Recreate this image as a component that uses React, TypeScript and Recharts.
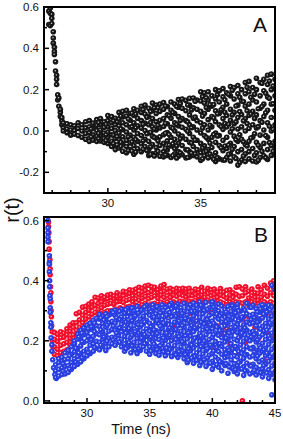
import React from "react";
import { ScatterChart, Scatter, XAxis, YAxis } from "recharts";

// panel A
const aTimes = [26.82, 26.9, 26.98, 27.06, 27.12, 27.18, 27.24, 27.3, 27.36, 27.44, 27.52, 27.6, 27.8, 28, 28.2, 28.4, 28.6, 28.8, 29, 29.2, 29.4, 29.6, 29.8, 30, 30.2, 30.4, 30.6, 30.8, 31, 31.2, 31.4, 31.6, 31.8, 32, 32.2, 32.4, 32.6, 32.8, 33, 33.2, 33.4, 33.6, 33.8, 34, 34.2, 34.4, 34.6, 34.8, 35, 35.2, 35.4, 35.6, 35.8, 36, 36.2, 36.4, 36.6, 36.8, 37, 37.2, 37.4, 37.6, 37.8, 38, 38.2, 38.4, 38.6, 38.8, 39];
const aValues = [
  [0.515, 0.58], [0.595, 0.57, 0.51], [0.545, 0.52, 0.565], [0.48, 0.45, 0.425], [0.385, 0.37, 0.405], [0.335, 0.29], [0.25, 0.225, 0.27], [0.175, 0.15], [0.12, 0.16], [0.09, 0.07, 0.105], [0.05, 0.03, 0.065], [0.04, 0.015, 0.0],
  [0.035, 0.01, -0.008], [0.03, 0.005, -0.02], [0.025, 0.002, -0.015], [0.04, 0.012, -0.022], [0.03, 0.0, -0.03], [0.045, 0.015, -0.012, -0.04], [0.05, 0.02, -0.008, -0.035, -0.05],
  [0.038, 0.012, -0.018, -0.044], [0.055, 0.028, 0.002, -0.026, -0.05], [0.06, 0.03, 0.005, -0.02, -0.048], [0.045, 0.018, -0.01, -0.036, -0.055], [0.075, 0.05, 0.02, -0.006, -0.03, -0.06],
  [0.07, 0.04, 0.012, -0.018, -0.05, -0.075], [0.062, 0.03, 0.002, -0.035, -0.068, -0.09], [0.09, 0.058, 0.025, -0.01, -0.04, -0.082], [0.095, 0.068, 0.04, 0.006, -0.028, -0.062, -0.098], [0.1, 0.072, 0.03, -0.005, -0.045, -0.075, -0.105],
  [0.085, 0.052, 0.018, -0.02, -0.058, -0.09], [0.108, 0.075, 0.04, 0.005, -0.03, -0.07, -0.112], [0.1, 0.062, 0.025, -0.012, -0.05, -0.085], [0.12, 0.09, 0.05, 0.014, -0.022, -0.062, -0.1], [0.125, 0.082, 0.038, 0.002, -0.04, -0.075],
  [0.11, 0.07, 0.03, -0.01, -0.05, -0.09, -0.118], [0.135, 0.1, 0.06, 0.02, -0.025, -0.065, -0.11], [0.125, 0.085, 0.045, 0.005, -0.035, -0.08, -0.105], [0.13, 0.095, 0.052, 0.015, -0.028, -0.07, -0.122], [0.138, 0.105, 0.06, 0.022, -0.018, -0.06, -0.1, -0.125],
  [0.118, 0.078, 0.035, -0.008, -0.048, -0.092, -0.118], [0.14, 0.1, 0.062, 0.018, -0.03, -0.072, -0.128], [0.13, 0.085, 0.04, 0.0, -0.04, -0.085, -0.11], [0.152, 0.115, 0.07, 0.025, -0.015, -0.06, -0.1, -0.122], [0.155, 0.11, 0.06, 0.018, -0.025, -0.07, -0.115],
  [0.148, 0.098, 0.05, 0.008, -0.04, -0.09, -0.13], [0.158, 0.125, 0.078, 0.03, -0.012, -0.055, -0.1, -0.125], [0.16, 0.112, 0.062, 0.02, -0.03, -0.075, -0.118], [0.15, 0.105, 0.05, 0.005, -0.045, -0.09, -0.125], [0.19, 0.145, 0.095, 0.04, -0.01, -0.06, -0.105, -0.142],
  [0.185, 0.135, 0.085, 0.03, -0.022, -0.072, -0.12], [0.19, 0.15, 0.105, 0.055, 0.005, -0.04, -0.09, -0.13], [0.17, 0.12, 0.07, 0.02, -0.03, -0.08, -0.125], [0.2, 0.155, 0.098, 0.045, -0.01, -0.055, -0.105, -0.148], [0.195, 0.14, 0.085, 0.03, -0.022, -0.07, -0.135],
  [0.205, 0.165, 0.115, 0.06, 0.008, -0.045, -0.095, -0.14], [0.185, 0.13, 0.075, 0.02, -0.03, -0.085, -0.128], [0.215, 0.17, 0.105, 0.052, -0.005, -0.06, -0.11, -0.145], [0.21, 0.155, 0.09, 0.035, -0.025, -0.075, -0.125], [0.22, 0.18, 0.125, 0.065, 0.01, -0.05, -0.1, -0.165],
  [0.2, 0.145, 0.08, 0.02, -0.04, -0.09, -0.14], [0.235, 0.18, 0.12, 0.06, 0.0, -0.065, -0.11, -0.148], [0.24, 0.19, 0.13, 0.075, 0.012, -0.05, -0.1, -0.135], [0.21, 0.15, 0.095, 0.03, -0.03, -0.085, -0.145], [0.255, 0.2, 0.14, 0.078, 0.015, -0.055, -0.105, -0.15],
  [0.235, 0.17, 0.11, 0.05, -0.02, -0.08, -0.128], [0.25, 0.195, 0.13, 0.07, 0.005, -0.06, -0.12], [0.27, 0.225, 0.165, 0.1, 0.04, -0.03, -0.09, -0.138], [0.275, 0.2, 0.13, 0.065, 0.0, -0.07, -0.118], [0.25, 0.205, 0.17, 0.1, 0.03, -0.05, -0.08, -0.115],
];
// more passes over the cloud, read between the first columns
const aTimes2 = [29.1, 29.5, 29.9, 30.3, 30.7, 31.1, 31.5, 31.9, 32.3, 32.7, 33.1, 33.5, 33.9, 34.3, 34.7, 35.1, 35.5, 35.9, 36.3, 36.7, 37.1, 37.5, 37.9, 38.3, 38.7];
const aValues2 = [
  [0.01, -0.028], [0.041, -0.011, -0.037], [0.033, -0.018, -0.046], [0.049, -0.02, -0.061], [0.072, 0.011, -0.055, -0.074], [0.058, -0.028, -0.094], [0.082, 0.016, -0.041, -0.102], [0.104, 0.033, -0.047, -0.088],
  [0.094, 0.041, -0.006, -0.077, -0.113], [0.112, 0.028, -0.048, -0.098], [0.121, 0.037, -0.011, -0.084, -0.116], [0.09, 0.013, -0.062, -0.119], [0.133, 0.051, -0.038, -0.106], [0.126, 0.044, -0.001, -0.091, -0.128], [0.144, 0.067, -0.044, -0.11],
  [0.167, 0.072, 0.014, -0.083, -0.134], [0.128, 0.028, -0.058, -0.111], [0.176, 0.083, -0.024, -0.128], [0.151, 0.091, 0.036, -0.073, -0.14], [0.197, 0.078, 0.011, -0.088], [0.163, 0.094, -0.018, -0.152], [0.212, 0.098, 0.036, -0.072], [0.178, 0.061, -0.013, -0.118], [0.231, 0.118, 0.042, -0.098], [0.242, 0.158, 0.023, -0.056],
];
const aTimes3 = [30.5, 31.3, 32.1, 32.5, 33.3, 33.7, 34.5, 35.3, 35.7, 36.1, 36.5, 36.9, 37.3, 37.7, 38.1, 38.5, 38.9];
const aValues3 = [
  [0.044, -0.027, -0.067], [0.087, 0.021, -0.052, -0.097], [0.067, -0.013, -0.094], [0.112, 0.009, -0.031, -0.121], [0.074, -0.017, -0.068], [0.118, 0.032, -0.072, -0.131], [0.102, 0.016, -0.058, -0.107],
  [0.161, 0.114, -0.031, -0.098], [0.128, 0.063, -0.017, -0.137], [0.102, 0.022, -0.081], [0.178, 0.033, -0.068, -0.113], [0.121, 0.044, -0.042, -0.133], [0.143, 0.049, -0.052, -0.121], [0.163, 0.082, -0.034], [0.108, 0.021, -0.069, -0.142], [0.183, 0.088, -0.022, -0.129], [0.218, 0.132, 0.008, -0.098],
];

// panel B
const bBlueTimes = [26.89, 26.89, 26.89, 26.89, 26.89, 27, 27, 27, 27, 27.02, 27.02, 27.04, 27.07, 27.07, 27.07, 27.12, 27.12, 27.14, 27.2, 27.2, 27.27, 27.34, 27.44, 27.55];
const bBlueEarly = [0.6, 0.575, 0.56, 0.545, 0.53, 0.483, 0.46, 0.455, 0.43, 0.4, 0.38, 0.35, 0.34, 0.31, 0.295, 0.26, 0.245, 0.21, 0.187, 0.165, 0.137, 0.11, 0.088, 0.075];
const bBlueColTimes = [27.5, 27.75, 28, 28.25, 28.5, 28.75, 29, 29.25, 29.5, 29.75, 30, 30.25, 30.5, 30.75, 31, 31.25, 31.5, 31.75, 32, 32.25, 32.5, 32.75, 33, 33.25, 33.5, 33.75, 34, 34.25, 34.5, 34.75, 35, 35.25, 35.5, 35.75, 36, 36.25, 36.5, 36.75, 37, 37.25, 37.5, 37.75, 38, 38.25, 38.5, 38.75, 39, 39.25, 39.5, 39.75, 40, 40.25, 40.5, 40.75, 41, 41.25, 41.5, 41.75, 42, 42.25, 42.5, 42.75, 43, 43.25, 43.5, 43.75, 44, 44.25, 44.5, 44.75, 45];
const bBlueCols = [
  [0.078, 0.1, 0.12], [0.083, 0.105, 0.128, 0.14], [0.088, 0.11, 0.132, 0.145], [0.09, 0.115, 0.138, 0.16], [0.095, 0.118, 0.14, 0.168], [0.105, 0.128, 0.155, 0.18],
  [0.115, 0.14, 0.163, 0.19, 0.2], [0.122, 0.148, 0.175, 0.205, 0.222], [0.13, 0.155, 0.183, 0.21, 0.235], [0.14, 0.165, 0.195, 0.22, 0.243], [0.15, 0.172, 0.2, 0.228, 0.252], [0.158, 0.185, 0.212, 0.238, 0.258],
  [0.165, 0.19, 0.215, 0.245, 0.268], [0.175, 0.198, 0.224, 0.25, 0.275], [0.17, 0.195, 0.22, 0.248, 0.272, 0.288], [0.18, 0.205, 0.23, 0.258, 0.282], [0.168, 0.192, 0.218, 0.245, 0.27, 0.29], [0.18, 0.208, 0.232, 0.26, 0.285],
  [0.19, 0.212, 0.238, 0.265, 0.29, 0.298], [0.185, 0.21, 0.235, 0.258, 0.284, 0.302], [0.195, 0.218, 0.242, 0.27, 0.296], [0.18, 0.205, 0.23, 0.255, 0.28, 0.305], [0.165, 0.19, 0.215, 0.24, 0.268, 0.292], [0.178, 0.202, 0.228, 0.254, 0.28, 0.308],
  [0.16, 0.186, 0.212, 0.238, 0.264, 0.29, 0.31], [0.17, 0.195, 0.222, 0.25, 0.276, 0.3], [0.158, 0.182, 0.208, 0.234, 0.26, 0.288, 0.315], [0.168, 0.194, 0.22, 0.246, 0.272, 0.298], [0.18, 0.205, 0.23, 0.256, 0.282, 0.31], [0.165, 0.19, 0.215, 0.24, 0.268, 0.295, 0.318],
  [0.155, 0.18, 0.205, 0.232, 0.258, 0.285, 0.305], [0.17, 0.196, 0.222, 0.25, 0.276, 0.3, 0.32], [0.158, 0.182, 0.208, 0.234, 0.262, 0.29, 0.31], [0.152, 0.178, 0.204, 0.23, 0.256, 0.282, 0.306], [0.165, 0.19, 0.216, 0.242, 0.27, 0.295, 0.32], [0.15, 0.176, 0.202, 0.228, 0.254, 0.28, 0.31],
  [0.16, 0.186, 0.212, 0.238, 0.266, 0.292, 0.315], [0.148, 0.174, 0.2, 0.226, 0.252, 0.28, 0.306, 0.325], [0.158, 0.184, 0.21, 0.236, 0.262, 0.288, 0.312], [0.145, 0.17, 0.196, 0.222, 0.25, 0.276, 0.3, 0.322], [0.155, 0.18, 0.206, 0.232, 0.258, 0.284, 0.31], [0.14, 0.165, 0.192, 0.218, 0.244, 0.272, 0.298, 0.325],
  [0.128, 0.154, 0.18, 0.206, 0.232, 0.258, 0.286, 0.312], [0.14, 0.166, 0.19, 0.216, 0.242, 0.27, 0.296, 0.32], [0.125, 0.15, 0.176, 0.202, 0.23, 0.256, 0.282, 0.308, 0.326], [0.135, 0.16, 0.186, 0.212, 0.24, 0.266, 0.292, 0.318], [0.118, 0.145, 0.17, 0.198, 0.224, 0.25, 0.278, 0.304, 0.33],
  [0.13, 0.156, 0.182, 0.208, 0.236, 0.262, 0.29, 0.316], [0.115, 0.14, 0.168, 0.194, 0.22, 0.246, 0.274, 0.3, 0.328], [0.125, 0.152, 0.178, 0.204, 0.23, 0.258, 0.284, 0.31], [0.105, 0.132, 0.158, 0.186, 0.212, 0.24, 0.266, 0.292, 0.32, 0.33],
  [0.12, 0.146, 0.172, 0.198, 0.226, 0.252, 0.28, 0.306], [0.112, 0.138, 0.164, 0.19, 0.218, 0.245, 0.272, 0.3, 0.322], [0.1, 0.128, 0.155, 0.182, 0.21, 0.236, 0.262, 0.29, 0.316], [0.118, 0.144, 0.17, 0.196, 0.224, 0.25, 0.278, 0.304],
  [0.092, 0.12, 0.148, 0.176, 0.204, 0.23, 0.258, 0.286, 0.314], [0.11, 0.136, 0.162, 0.19, 0.216, 0.244, 0.27, 0.298, 0.32], [0.098, 0.124, 0.15, 0.178, 0.205, 0.232, 0.26, 0.288, 0.31], [0.09, 0.118, 0.146, 0.172, 0.2, 0.228, 0.254, 0.282, 0.31, 0.322],
  [0.106, 0.132, 0.16, 0.186, 0.214, 0.242, 0.27, 0.298], [0.085, 0.114, 0.142, 0.17, 0.198, 0.226, 0.252, 0.28, 0.308], [0.1, 0.126, 0.154, 0.18, 0.208, 0.236, 0.262, 0.29, 0.325], [0.09, 0.118, 0.146, 0.174, 0.2, 0.228, 0.256, 0.284, 0.312],
  [0.095, 0.122, 0.15, 0.178, 0.206, 0.232, 0.26, 0.288, 0.318], [0.086, 0.112, 0.14, 0.168, 0.196, 0.224, 0.25, 0.278, 0.306], [0.104, 0.13, 0.158, 0.184, 0.212, 0.24, 0.266, 0.295, 0.315], [0.08, 0.108, 0.136, 0.164, 0.192, 0.22, 0.248, 0.276, 0.304, 0.32],
  [0.096, 0.122, 0.15, 0.176, 0.204, 0.23, 0.258, 0.286, 0.31], [0.075, 0.104, 0.132, 0.16, 0.188, 0.216, 0.244, 0.272, 0.3, 0.318], [0.02, 0.088, 0.116, 0.144, 0.172, 0.2, 0.226, 0.254, 0.282, 0.312, 0.385], [0.07, 0.098, 0.126, 0.154, 0.182, 0.21, 0.238, 0.266, 0.294, 0.37],
];
// more passes over the blue cloud, read between the first columns
const bBlueTimes2 = [28.1, 28.6, 29.1, 29.6, 30.1, 30.6, 31.1, 31.6, 32.1, 32.6, 33.1, 33.6, 34.1, 34.6, 35.1, 35.6, 36.1, 36.6, 37.1, 37.6, 38.1, 38.6, 39.1, 39.6, 40.1, 40.6, 41.1, 41.6, 42.1, 42.6, 43.1, 43.6, 44.1, 44.6];
const bBlueValues2 = [
  [0.099, 0.124], [0.107, 0.151], [0.129, 0.176], [0.144, 0.197, 0.226], [0.161, 0.214, 0.241], [0.178, 0.231, 0.259], [0.186, 0.237, 0.276], [0.199, 0.252, 0.281], [0.203, 0.249, 0.294], [0.196, 0.243, 0.271, 0.298], [0.174, 0.226, 0.262, 0.303],
  [0.183, 0.219, 0.267, 0.309], [0.173, 0.226, 0.254, 0.292], [0.191, 0.221, 0.263, 0.313], [0.166, 0.213, 0.247, 0.297], [0.171, 0.224, 0.268, 0.314], [0.163, 0.209, 0.259, 0.301], [0.172, 0.218, 0.243, 0.294, 0.319], [0.153, 0.204, 0.238, 0.282, 0.316], [0.167, 0.197, 0.251, 0.291],
  [0.136, 0.173, 0.227, 0.268, 0.308], [0.148, 0.209, 0.244, 0.299], [0.129, 0.181, 0.216, 0.262, 0.318], [0.143, 0.174, 0.239, 0.271, 0.305], [0.117, 0.166, 0.221, 0.258, 0.312], [0.131, 0.191, 0.234, 0.283], [0.124, 0.157, 0.209, 0.264, 0.296], [0.109, 0.173, 0.229, 0.276, 0.317],
  [0.128, 0.164, 0.211, 0.267, 0.299], [0.101, 0.153, 0.219, 0.243, 0.302], [0.116, 0.174, 0.213, 0.271, 0.311], [0.097, 0.149, 0.203, 0.262, 0.296], [0.118, 0.171, 0.233, 0.289], [0.092, 0.147, 0.207, 0.259, 0.303],
];
const bBlueTimes3 = [29.35, 30.35, 31.35, 32.35, 33.35, 34.35, 35.35, 36.35, 37.35, 38.35, 39.35, 40.35, 41.35, 42.35, 43.35, 44.35, 33.85, 35.85, 37.85, 39.85, 41.85, 43.85];
const bBlueValues3 = [
  [0.16, 0.213], [0.203, 0.247], [0.213, 0.269], [0.226, 0.277], [0.194, 0.241, 0.294], [0.209, 0.253, 0.302], [0.189, 0.237, 0.279], [0.176, 0.226, 0.286], [0.164, 0.214, 0.266], [0.143, 0.186, 0.251, 0.298],
  [0.138, 0.199, 0.256, 0.301], [0.121, 0.178, 0.246, 0.289], [0.113, 0.168, 0.226, 0.281], [0.107, 0.158, 0.226, 0.279], [0.102, 0.163, 0.221, 0.277], [0.093, 0.159, 0.236, 0.296], [0.171, 0.231, 0.283], [0.184, 0.249, 0.293], [0.154, 0.217, 0.274], [0.126, 0.186, 0.253], [0.104, 0.181, 0.246, 0.293], [0.094, 0.176, 0.239, 0.306],
];
const bRedTimes = [26.93, 26.93, 26.96, 26.98, 26.98, 27.04, 27.06, 27.06, 27.09, 27.12, 27.12, 27.14, 27.16, 27.18, 27.22, 27.24, 27.28];
const bRedEarly = [0.595, 0.58, 0.56, 0.53, 0.505, 0.47, 0.44, 0.42, 0.38, 0.36, 0.33, 0.3, 0.28, 0.25, 0.23, 0.2, 0.18];
const bRedColTimes = [27.4, 27.65, 27.9, 28.15, 28.4, 28.65, 28.9, 29.15, 29.4, 29.65, 29.9, 30.15, 30.4, 30.65, 30.9, 31.15, 31.4, 31.65, 31.9, 32.15, 32.4, 32.65, 32.9, 33.15, 33.4, 33.65, 33.9, 34.15, 34.4, 34.65, 34.9, 35.15, 35.4, 35.65, 35.9, 36.15, 36.4, 36.65, 36.9, 37.15, 37.4, 37.65, 37.9, 38.15, 38.4, 38.65, 38.9, 39.15, 39.4, 39.65, 39.9, 40.15, 40.4, 40.65, 40.9, 41.15, 41.4, 41.65, 41.9, 42.15, 42.4, 42.65, 42.9, 43.15, 43.4, 43.65, 43.9, 44.15, 44.4, 44.65, 44.9];
const bRedCols = [
  [0.155, 0.18, 0.205, 0.228], [0.15, 0.172, 0.198, 0.222], [0.16, 0.185, 0.21, 0.23], [0.165, 0.19, 0.212, 0.226], [0.17, 0.195, 0.22, 0.24], [0.185, 0.208, 0.232, 0.252],
  [0.195, 0.22, 0.245, 0.26], [0.21, 0.235, 0.26, 0.29], [0.22, 0.245, 0.27, 0.295], [0.235, 0.26, 0.285, 0.312], [0.25, 0.272, 0.295, 0.315], [0.255, 0.28, 0.302, 0.322], [0.265, 0.288, 0.312, 0.33], [0.27, 0.295, 0.318, 0.345],
  [0.28, 0.305, 0.325, 0.342], [0.29, 0.31, 0.33, 0.35], [0.295, 0.318, 0.338, 0.345], [0.3, 0.322, 0.34, 0.352], [0.3, 0.325, 0.345, 0.355], [0.302, 0.322, 0.34, 0.35], [0.305, 0.33, 0.348, 0.36],
  [0.31, 0.332, 0.342, 0.352], [0.305, 0.328, 0.35, 0.365], [0.312, 0.335, 0.355, 0.362], [0.315, 0.338, 0.358, 0.37], [0.31, 0.33, 0.35, 0.368], [0.318, 0.34, 0.36, 0.372], [0.315, 0.335, 0.355, 0.378], [0.32, 0.342, 0.362, 0.375],
  [0.325, 0.348, 0.368, 0.382], [0.318, 0.34, 0.36, 0.385], [0.24, 0.322, 0.345, 0.365, 0.38], [0.325, 0.35, 0.372, 0.378], [0.26, 0.32, 0.342, 0.36, 0.37], [0.328, 0.352, 0.375, 0.382], [0.215, 0.325, 0.345, 0.365, 0.387], [0.285, 0.33, 0.35, 0.372],
  [0.32, 0.345, 0.362, 0.375], [0.25, 0.33, 0.352, 0.37], [0.205, 0.325, 0.348, 0.365, 0.375], [0.285, 0.332, 0.355, 0.372], [0.33, 0.35, 0.368, 0.375], [0.27, 0.328, 0.346, 0.362, 0.372], [0.225, 0.332, 0.352, 0.375], [0.29, 0.33, 0.35, 0.365],
  [0.265, 0.335, 0.355, 0.372], [0.21, 0.33, 0.348, 0.36, 0.37], [0.3, 0.336, 0.352, 0.378], [0.26, 0.33, 0.345, 0.365], [0.235, 0.335, 0.358, 0.375], [0.295, 0.33, 0.35, 0.37], [0.17, 0.335, 0.355, 0.372], [0.25, 0.325, 0.345, 0.362],
  [0.22, 0.33, 0.352, 0.374], [0.285, 0.325, 0.348, 0.362], [0.24, 0.32, 0.342, 0.368], [0.19, 0.33, 0.352, 0.37], [0.3, 0.325, 0.345, 0.36], [0.15, 0.33, 0.355, 0.378], [0.23, 0.328, 0.348, 0.38], [0.0, 0.27, 0.325, 0.35, 0.372],
  [0.195, 0.33, 0.36, 0.38], [0.28, 0.32, 0.342, 0.365], [0.12, 0.33, 0.35, 0.372], [0.245, 0.325, 0.345, 0.36], [0.205, 0.335, 0.358, 0.38], [0.275, 0.325, 0.345, 0.37], [0.135, 0.33, 0.355, 0.385], [0.225, 0.322, 0.348, 0.375],
  [0.29, 0.33, 0.36, 0.392], [0.21, 0.325, 0.35, 0.375, 0.4], [0.305, 0.335, 0.368, 0.405],
];

const aTicksX = [27, 28, 29, 30, 31, 32, 33, 34, 35, 36, 37, 38, 39];
const aLabelsX = [30, 35];
const aTicksY = [-0.3, -0.2, -0.1, 0, 0.1, 0.2, 0.3, 0.4, 0.5, 0.6];
const aLabelsY = [-0.2, 0, 0.2, 0.4, 0.6];
const bTicksX = [27, 28, 29, 30, 31, 32, 33, 34, 35, 36, 37, 38, 39, 40, 41, 42, 43, 44, 45];
const bLabelsX = [30, 35, 40, 45];
const bTicksY = [0, 0.1, 0.2, 0.3, 0.4, 0.5, 0.6];
const bLabelsY = [0, 0.2, 0.4, 0.6];

const FONT = "'Liberation Sans', Arial, sans-serif";

const columns = (times: number[], values: number[][]) =>
  times.flatMap((t, i) => values[i].map((r) => ({ t, r })));
const flat = (times: number[], values: number[]) =>
  times.map((t, i) => ({ t, r: values[i] }));

const aData = [...columns(aTimes, aValues), ...columns(aTimes2, aValues2), ...columns(aTimes3, aValues3)];
const bRed = [...flat(bRedTimes, bRedEarly), ...columns(bRedColTimes, bRedCols)];
const bBlue = [...flat(bBlueTimes, bBlueEarly), ...columns(bBlueColTimes, bBlueCols), ...columns(bBlueTimes2, bBlueValues2), ...columns(bBlueTimes3, bBlueValues3)];

const sphere = (fill: string, shine: string) => (p: any) => (
  <g>
    <circle cx={p.cx} cy={p.cy} r={2.8} fill={fill} />
    <circle cx={p.cx - 0.3} cy={p.cy - 0.3} r={0.7} fill={shine} />
  </g>
);

// tick marks point into the plot, so the library's outward ones are switched off
const xTick = (labels: number[]) => (p: any) => {
  const isLabel = labels.includes(p.payload.value);
  const len = isLabel ? 5 : 3;
  return (
    <g>
      <rect x={p.x - 0.75} y={p.y - len} width={1.5} height={len} fill="#000" />
      {isLabel && (
        <text x={p.x} y={p.y + 14} textAnchor="middle" fontSize={11.5} fontFamily={FONT} fill="#111">
          {p.payload.value}
        </text>
      )}
    </g>
  );
};

const yTick = (labels: number[]) => (p: any) => {
  const isLabel = labels.includes(p.payload.value);
  return (
    <g>
      <rect x={p.x} y={p.y - 0.75} width={isLabel ? 5 : 3} height={1.5} fill="#000" />
      {isLabel && (
        <text x={p.x - 5} y={p.y + 4} textAnchor="end" fontSize={11.5} fontFamily={FONT} fill="#111">
          {p.payload.value.toFixed(1)}
        </text>
      )}
    </g>
  );
};

export default function App() {
  return (
    <div style={{ position: "absolute", left: 0, top: 0, width: 283, height: 439, background: "#fff" }}>
      <div style={{ position: "absolute", left: 0, top: 0 }}>
        <ScatterChart width={283} height={215} margin={{ top: 7, right: 8, bottom: 0, left: 8 }}>
          <XAxis dataKey="t" type="number" domain={[26.56, 39]} allowDataOverflow ticks={aTicksX} interval={0} height={22} tickLine={false} axisLine={false} tick={xTick(aLabelsX)} tickMargin={0} tickSize={0} />
          <YAxis dataKey="r" type="number" domain={[-0.3, 0.6]} allowDataOverflow ticks={aTicksY} interval={0} width={36} tickLine={false} axisLine={false} tick={yTick(aLabelsY)} tickMargin={0} tickSize={0} />
          <Scatter data={aData} isAnimationActive={false} shape={sphere("#161616", "#dcdcdc")} />
        </ScatterChart>
      </div>
      <div style={{ position: "absolute", left: 0, top: 210 }}>
        <ScatterChart width={283} height={229} margin={{ top: 7, right: 8, bottom: 0, left: 8 }}>
          <XAxis dataKey="t" type="number" domain={[26.57, 45]} allowDataOverflow ticks={bTicksX} interval={0} height={36} tickLine={false} axisLine={false} tick={xTick(bLabelsX)} tickMargin={0} tickSize={0} />
          <YAxis dataKey="r" type="number" domain={[-0.007, 0.612]} allowDataOverflow ticks={bTicksY} interval={0} width={36} tickLine={false} axisLine={false} tick={yTick(bLabelsY)} tickMargin={0} tickSize={0} />
          <Scatter data={bRed} isAnimationActive={false} shape={sphere("#f0102c", "#ffc4cc")} />
          <Scatter data={bBlue} isAnimationActive={false} shape={sphere("#2a3fe0", "#d0d6ff")} />
        </ScatterChart>
      </div>
      <svg width={283} height={439} style={{ position: "absolute", left: 0, top: 0, pointerEvents: "none" }}>
        <rect x={44} y={7} width={231} height={186} fill="none" stroke="#000" strokeWidth={2} />
        <rect x={44} y={217} width={231} height={186} fill="none" stroke="#000" strokeWidth={2} />
        <text x={260} y={32} textAnchor="middle" fontSize={21} fontFamily={FONT} fill="#111">A</text>
        <text x={261} y={242} textAnchor="middle" fontSize={21} fontFamily={FONT} fill="#111">B</text>
        <text x={141} y={434} textAnchor="middle" fontSize={14.2} fontFamily={FONT} fill="#111">Time (ns)</text>
        <text transform="translate(19,210) rotate(-90)" textAnchor="middle" fontSize={20} fontFamily={FONT} fill="#111">r(t)</text>
      </svg>
    </div>
  );
}
